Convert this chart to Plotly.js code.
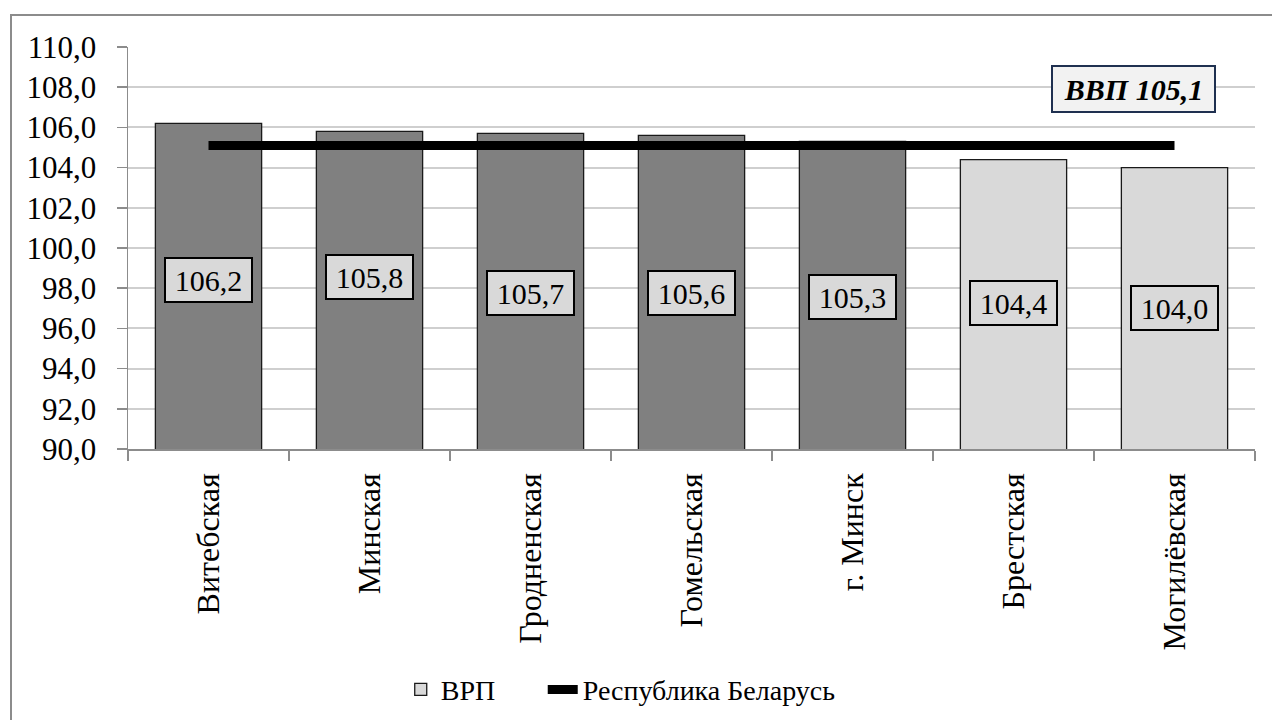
<!DOCTYPE html>
<html>
<head>
<meta charset="utf-8">
<script src="https://cdn.plot.ly/plotly-3.0.1.min.js"></script>
<style>
  html, body { margin: 0; padding: 0; background: #fff; overflow: hidden; }
  #frame { position: absolute; left: 10px; top: 14px; width: 1400px; height: 900px;
           border-left: 2px solid #8c8c8c; border-top: 2px solid #8c8c8c; }
  #chart { position: absolute; left: 0; top: 0; width: 1272px; height: 720px; }
</style>
</head>
<body>
<div id="frame"></div>
<div id="chart"></div>
<script>
// ---- data ----
const categories = ["Витебская", "Минская", "Гродненская", "Гомельская", "г. Минск", "Брестская", "Могилёвская"];
const vrpValues = [106.2, 105.8, 105.7, 105.6, 105.3, 104.4, 104.0];
const rbValue = 105.1;
const yTickVals = [90, 92, 94, 96, 98, 100, 102, 104, 106, 108, 110];
const seriesNames = { vrp: "ВРП", rb: "Республика Беларусь" };
const gdpLabel = "ВВП 105,1";

// ---- styling / layout constants ----
const darkGray = "#808080";
const lightGray = "#d9d9d9";
const labelYPos = [98.4, 98.55, 97.75, 97.75, 97.55, 97.25, 97.0];
const serif = "Liberation Serif";

const aboveIdx = [], belowIdx = [];
vrpValues.forEach((v, i) => (v > rbValue ? aboveIdx : belowIdx).push(i));

const traces = [
  {
    type: "bar",
    x: aboveIdx.map(i => categories[i]),
    y: aboveIdx.map(i => vrpValues[i]),
    marker: { color: darkGray, line: { color: "#1a1a1a", width: 1.3 } },
    showlegend: false,
    hoverinfo: "skip"
  },
  {
    type: "bar",
    name: seriesNames.vrp,
    x: belowIdx.map(i => categories[i]),
    y: belowIdx.map(i => vrpValues[i]),
    marker: { color: lightGray, line: { color: "#1a1a1a", width: 1.3 } },
    legend: "legend",
    hoverinfo: "skip"
  },
  {
    type: "scatter",
    mode: "lines",
    name: seriesNames.rb,
    x: categories,
    y: categories.map(() => rbValue),
    line: { color: "#000", width: 9 },
    legend: "legend2",
    hoverinfo: "skip"
  }
];

const annotations = vrpValues.map((v, i) => ({
  x: categories[i],
  y: labelYPos[i],
  xref: "x", yref: "y",
  xanchor: "center", yanchor: "middle",
  text: v.toFixed(1).replace(".", ","),
  showarrow: false,
  font: { family: serif, size: 30, color: "#000" },
  bgcolor: lightGray,
  bordercolor: "#000",
  borderwidth: 2,
  borderpad: 3,
  width: 79,
  height: 36
}));
annotations.push({
  x: 0.8926, y: 0.8955, xref: "paper", yref: "paper",
  xanchor: "center", yanchor: "middle",
  text: "<b><i>" + gdpLabel + "</i></b>",
  showarrow: false,
  font: { family: serif, size: 30, color: "#000" },
  bgcolor: "#f2f2f2",
  bordercolor: "#1f3050",
  borderwidth: 2,
  borderpad: 3,
  width: 155,
  height: 38
});

const legendBase = {
  orientation: "h",
  yref: "container",
  y: 0.042, yanchor: "middle",
  xanchor: "left",
  font: { family: serif, size: 28, color: "#000" },
  bgcolor: "rgba(0,0,0,0)",
  itemwidth: 30
};

const layout = {
  width: 1272, height: 720,
  margin: { l: 128, r: 17, t: 47, b: 271 },
  paper_bgcolor: "rgba(0,0,0,0)",
  plot_bgcolor: "#fff",
  separators: ", ",
  barmode: "overlay",
  bargap: 0.34,
  font: { family: serif, color: "#000" },
  xaxis: {
    type: "category",
    categoryorder: "array",
    categoryarray: categories,
    tickangle: -90,
    tickfont: { family: serif, size: 32, color: "#000" },
    ticks: "outside",
    tickson: "boundaries",
    ticklen: 10,
    tickcolor: "#8c8c8c",
    tickwidth: 1.5,
    ticklabelstandoff: 10,
    showline: true,
    linecolor: "#8c8c8c",
    linewidth: 1.5,
    showgrid: false,
    fixedrange: true
  },
  yaxis: {
    range: [90, 110],
    tickvals: yTickVals,
    tickformat: ".1f",
    tickfont: { family: serif, size: 31, color: "#000" },
    ticks: "outside",
    ticklen: 10,
    tickcolor: "#8c8c8c",
    tickwidth: 1.5,
    ticklabelstandoff: 14,
    showline: true,
    linecolor: "#8c8c8c",
    linewidth: 1.5,
    showgrid: true,
    gridcolor: "#cfcfcf",
    gridwidth: 2,
    zeroline: false,
    fixedrange: true
  },
  legend: Object.assign({}, legendBase, { x: 0.242 }),
  legend2: Object.assign({}, legendBase, { x: 0.368 }),
  annotations: annotations,
  showlegend: true
};

Plotly.newPlot("chart", traces, layout, { displayModeBar: false, staticPlot: true });
</script>
</body>
</html>
